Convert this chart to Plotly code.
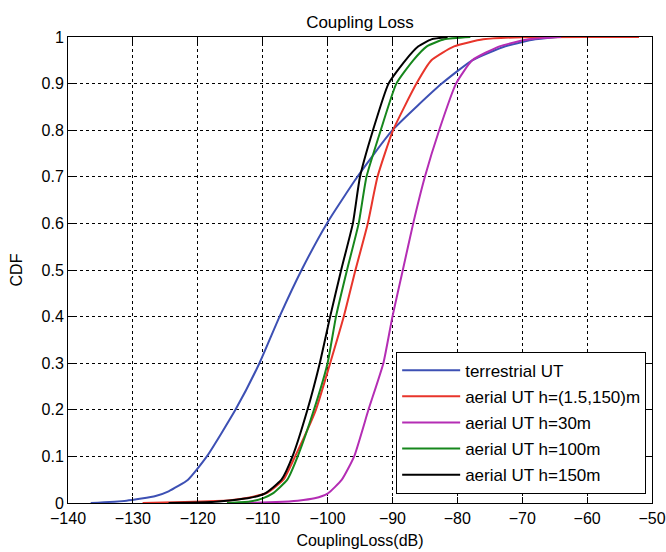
import plotly.graph_objects as go

# Coupling loss samples (dB) and their cumulative probabilities, per user type
terrestrial_loss = [-136.5, -131.0, -126.5, -124.5, -121.5, -118.6, -114.2, -110.5, -107.4,
                    -104.0, -100.1, -95.4, -90.0, -82.4, -77.7, -72.6, -68.0, -64.5]
terrestrial_cdf = [0.0, 0.005, 0.015, 0.025, 0.05, 0.1, 0.2, 0.3, 0.4,
                   0.5, 0.6, 0.7, 0.8, 0.9, 0.95, 0.98, 0.995, 1.0]

aerial_mix_loss = [-128.5, -122.0, -115.0, -112.0, -109.3, -106.8, -105.0, -101.8, -99.6,
                   -97.5, -95.7, -93.8, -92.3, -89.9, -86.3, -84.0, -80.5, -76.0, -70.0, -52.0]
aerial_mix_cdf = [0.0, 0.002, 0.006, 0.012, 0.022, 0.05, 0.1, 0.2, 0.3,
                  0.4, 0.5, 0.6, 0.7, 0.8, 0.9, 0.95, 0.98, 0.995, 0.9995, 1.0]

aerial_30_loss = [-113.0, -108.0, -104.6, -102.0, -100.0, -97.8, -95.9, -93.7, -91.4,
                  -90.0, -88.4, -86.8, -85.0, -82.8, -80.2, -77.7, -73.5, -69.0, -64.0]
aerial_30_cdf = [0.0, 0.002, 0.005, 0.01, 0.02, 0.05, 0.1, 0.2, 0.3,
                 0.4, 0.5, 0.6, 0.7, 0.8, 0.9, 0.95, 0.98, 0.995, 1.0]

aerial_100_loss = [-115.5, -112.0, -110.0, -108.5, -106.2, -104.6, -102.1, -100.0, -98.7,
                   -97.0, -95.2, -94.0, -91.8, -89.4, -86.8, -84.7, -82.0, -78.0]
aerial_100_cdf = [0.0, 0.003, 0.01, 0.02, 0.05, 0.1, 0.2, 0.3, 0.4,
                  0.5, 0.6, 0.7, 0.8, 0.9, 0.95, 0.98, 0.995, 1.0]

aerial_150_loss = [-124.5, -118.0, -112.3, -109.7, -107.1, -105.4, -103.1, -101.2, -99.6,
                   -97.9, -96.1, -95.0, -93.0, -90.6, -88.0, -86.0, -84.0, -81.5]
aerial_150_cdf = [0.0, 0.002, 0.01, 0.02, 0.05, 0.1, 0.2, 0.3, 0.4,
                  0.5, 0.6, 0.7, 0.8, 0.9, 0.95, 0.98, 0.995, 1.0]

series_names = ["terrestrial UT", "aerial UT h=(1.5,150)m", "aerial UT h=30m",
                "aerial UT h=100m", "aerial UT h=150m"]
series_colors = ["#3d50b4", "#e8352b", "#b42db4", "#16871c", "#000000"]

x_ticks = [-140, -130, -120, -110, -100, -90, -80, -70, -60, -50]
y_ticks = [0, 0.1, 0.2, 0.3, 0.4, 0.5, 0.6, 0.7, 0.8, 0.9, 1]
y_tick_text = ["0", "0.1", "0.2", "0.3", "0.4", "0.5", "0.6", "0.7", "0.8", "0.9", "1"]

series = [
    (terrestrial_loss, terrestrial_cdf),
    (aerial_mix_loss, aerial_mix_cdf),
    (aerial_30_loss, aerial_30_cdf),
    (aerial_100_loss, aerial_100_cdf),
    (aerial_150_loss, aerial_150_cdf),
]

FONT = "Liberation Sans, Arial, sans-serif"

fig = go.Figure()
for i, ((loss, cdf), name, color) in enumerate(zip(series, series_names, series_colors)):
    fig.add_trace(go.Scatter(
        x=loss, y=cdf, mode="lines", name=name,
        legendgroup=f"g{i}",
        line=dict(color=color, width=2, shape="spline", smoothing=0.5),
    ))

axis_common = dict(
    showline=True, linecolor="black", linewidth=1, mirror="ticks",
    ticks="inside", ticklen=6, tickcolor="black", tickwidth=1,
    showgrid=True, gridcolor="black", gridwidth=1, griddash="3px,3px",
    zeroline=False, automargin=False, ticklabeloverflow="allow",
    tickfont=dict(family=FONT, size=16, color="black"),
)

fig.update_xaxes(
    range=[-140, -50], tickvals=x_ticks, ticklabelstandoff=1,
    title=dict(text="CouplingLoss(dB)", font=dict(family=FONT, size=16, color="black"), standoff=8),
    **axis_common,
)
fig.update_yaxes(
    range=[0, 1], tickvals=y_ticks, ticktext=y_tick_text,
    title=dict(text="CDF", font=dict(family=FONT, size=16, color="black"), standoff=14),
    **axis_common,
)

fig.update_layout(
    width=666, height=552,
    margin=dict(l=68, r=14, t=37, b=49),
    paper_bgcolor="white", plot_bgcolor="white",
    title=dict(text="Coupling Loss", font=dict(family=FONT, size=17, color="black"),
               x=0.5, xanchor="center", xref="paper",
               y=1 - 22 / 552, yanchor="middle", yref="container"),
    legend=dict(
        x=0.99, y=0.02, xanchor="right", yanchor="bottom",
        bgcolor="white", bordercolor="black", borderwidth=1,
        font=dict(family=FONT, size=17, color="black"),
        traceorder="grouped", tracegroupgap=1, itemwidth=58,
    ),
    showlegend=True,
)

fig.write_html("out.html")
